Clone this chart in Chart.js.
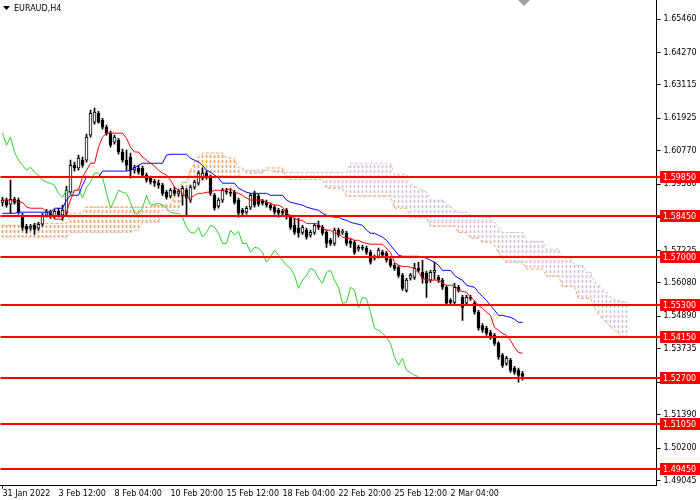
<!DOCTYPE html>
<html>
<head>
<meta charset="utf-8">
<script src="https://cdn.jsdelivr.net/npm/chart.js@4.4.1/dist/chart.umd.min.js"></script>
<style>
    html, body { margin: 0; padding: 0; background: #ffffff; }
    canvas { display: block; }
</style>
</head>
<body>
<canvas id="chart" width="700" height="500"></canvas>
<script>
// EURAUD H4 - Ichimoku with support/resistance levels

const symbolTitle = 'EURAUD,H4';

// time axis
const timeLabels = ['31 Jan 2022', '3 Feb 12:00', '8 Feb 04:00', '10 Feb 20:00', '15 Feb 12:00',
    '18 Feb 04:00', '22 Feb 20:00', '25 Feb 12:00', '2 Mar 04:00'];
const timeLabelBars = [0, 14, 28, 42, 56, 70, 84, 98, 112];
const barCount = 164; // candles + 26 bars of cloud ahead + empty space

// price axis
const priceMin = 1.48867;
const priceMax = 1.66137;
const priceTicks = [1.65460, 1.64270, 1.63115, 1.61925, 1.60770, 1.59580, 1.58405, 1.57225,
    1.56080, 1.54890, 1.53735, 1.52545, 1.51390, 1.50200, 1.49045];

// horizontal levels
const levels = [1.5985, 1.5845, 1.5700, 1.5530, 1.5415, 1.5270, 1.5105, 1.4945];

// candles
const opens = [
    1.5894, 1.5902, 1.5887, 1.5905, 1.5902, 1.5848, 1.5809, 1.5802, 1.5812, 1.5802,
    1.5816, 1.5848, 1.5859, 1.5844, 1.5862, 1.5848, 1.5855, 1.5930, 1.6026, 1.6016,
    1.6044, 1.6044, 1.6133, 1.6179, 1.6211, 1.6186, 1.6161, 1.6140, 1.6108, 1.6115,
    1.6073, 1.6044, 1.6055, 1.6008, 1.6016, 1.6016, 1.5991, 1.5980, 1.5969, 1.5962,
    1.5955, 1.5930, 1.5916, 1.5937, 1.5926, 1.5919, 1.5937, 1.5902, 1.5948, 1.5962,
    1.5980, 1.5998, 1.5984, 1.5919, 1.5880, 1.5902, 1.5934, 1.5930, 1.5930, 1.5902,
    1.5866, 1.5859, 1.5877, 1.5926, 1.5916, 1.5898, 1.5894, 1.5884, 1.5877, 1.5866,
    1.5862, 1.5866, 1.5841, 1.5812, 1.5802, 1.5787, 1.5795, 1.5777, 1.5787, 1.5812,
    1.5805, 1.5787, 1.5759, 1.5748, 1.5795, 1.5787, 1.5784, 1.5755, 1.5752, 1.5727,
    1.5734, 1.5731, 1.5716, 1.5695, 1.5702, 1.5716, 1.5713, 1.5691, 1.5670, 1.5663,
    1.5634, 1.5581, 1.5624, 1.5627, 1.5659, 1.5645, 1.5641, 1.5617, 1.5645, 1.5627,
    1.5617, 1.5592, 1.5545, 1.5538, 1.5592, 1.5556, 1.5535, 1.5556, 1.5535, 1.5503,
    1.5456, 1.5446, 1.5431, 1.5421, 1.5392, 1.5350, 1.5321, 1.5332, 1.5304, 1.5296,
    1.5285
];
const highs = [
    1.5912, 1.5909, 1.5973, 1.5912, 1.5909, 1.5855, 1.5816, 1.5816, 1.5819, 1.5823,
    1.5855, 1.5869, 1.5866, 1.5869, 1.5873, 1.5884, 1.5951, 1.6044, 1.6037, 1.6062,
    1.6055, 1.6137, 1.6222, 1.6229, 1.6218, 1.6193, 1.6169, 1.6147, 1.6133, 1.6122,
    1.6083, 1.6080, 1.6069, 1.6026, 1.6026, 1.6023, 1.5998, 1.5987, 1.5976, 1.5973,
    1.5962, 1.5937, 1.5944, 1.5948, 1.5941, 1.5951, 1.5944, 1.5955, 1.5973, 1.6005,
    1.6016, 1.6005, 1.5991, 1.5926, 1.5909, 1.5944, 1.5944, 1.5941, 1.5937, 1.5909,
    1.5873, 1.5880, 1.5926, 1.5934, 1.5923, 1.5905, 1.5902, 1.5891, 1.5884, 1.5873,
    1.5869, 1.5873, 1.5848, 1.5837, 1.5837, 1.5812, 1.5802, 1.5795, 1.5819, 1.5827,
    1.5812, 1.5795, 1.5766, 1.5802, 1.5802, 1.5798, 1.5791, 1.5763, 1.5759, 1.5741,
    1.5741, 1.5738, 1.5724, 1.5706, 1.5731, 1.5724, 1.5720, 1.5699, 1.5677, 1.5670,
    1.5641, 1.5624, 1.5641, 1.5677, 1.5681, 1.5688, 1.5649, 1.5652, 1.5681, 1.5634,
    1.5624, 1.5599, 1.5552, 1.5606, 1.5599, 1.5563, 1.5563, 1.5563, 1.5542, 1.5510,
    1.5463, 1.5453, 1.5439, 1.5428, 1.5399, 1.5357, 1.5346, 1.5339, 1.5311, 1.5304,
    1.5293
];
const lows = [
    1.5880, 1.5877, 1.5855, 1.5887, 1.5852, 1.5795, 1.5784, 1.5795, 1.5780, 1.5795,
    1.5809, 1.5841, 1.5837, 1.5837, 1.5841, 1.5830, 1.5848, 1.5923, 1.6005, 1.6008,
    1.6019, 1.6037, 1.6126, 1.6172, 1.6176, 1.6154, 1.6133, 1.6090, 1.6101, 1.6065,
    1.6037, 1.6008, 1.5980, 1.5998, 1.5994, 1.5984, 1.5966, 1.5959, 1.5951, 1.5944,
    1.5919, 1.5905, 1.5909, 1.5919, 1.5916, 1.5884, 1.5844, 1.5894, 1.5941, 1.5955,
    1.5973, 1.5976, 1.5919, 1.5866, 1.5873, 1.5894, 1.5923, 1.5916, 1.5887, 1.5841,
    1.5848, 1.5852, 1.5869, 1.5877, 1.5880, 1.5884, 1.5877, 1.5866, 1.5852, 1.5841,
    1.5848, 1.5834, 1.5798, 1.5780, 1.5770, 1.5780, 1.5763, 1.5770, 1.5780, 1.5798,
    1.5777, 1.5734, 1.5741, 1.5741, 1.5770, 1.5780, 1.5741, 1.5734, 1.5709, 1.5720,
    1.5724, 1.5709, 1.5674, 1.5688, 1.5695, 1.5699, 1.5681, 1.5663, 1.5652, 1.5627,
    1.5581, 1.5574, 1.5617, 1.5620, 1.5645, 1.5606, 1.5556, 1.5609, 1.5620, 1.5609,
    1.5584, 1.5527, 1.5531, 1.5531, 1.5574, 1.5474, 1.5527, 1.5545, 1.5496, 1.5439,
    1.5431, 1.5421, 1.5406, 1.5385, 1.5335, 1.5307, 1.5314, 1.5289, 1.5282, 1.5254,
    1.5261
];
const closes = [
    1.5902, 1.5884, 1.5905, 1.5894, 1.5859, 1.5805, 1.5798, 1.5809, 1.5798, 1.5816,
    1.5848, 1.5859, 1.5844, 1.5862, 1.5848, 1.5866, 1.5937, 1.6026, 1.6016, 1.6051,
    1.6026, 1.6126, 1.6211, 1.6215, 1.6179, 1.6161, 1.6140, 1.6097, 1.6126, 1.6073,
    1.6044, 1.6026, 1.6008, 1.6019, 1.6001, 1.5991, 1.5973, 1.5966, 1.5962, 1.5955,
    1.5926, 1.5912, 1.5937, 1.5926, 1.5934, 1.5944, 1.5909, 1.5948, 1.5966, 1.5998,
    1.5998, 1.5984, 1.5926, 1.5873, 1.5902, 1.5937, 1.5930, 1.5926, 1.5894, 1.5855,
    1.5855, 1.5873, 1.5919, 1.5884, 1.5887, 1.5891, 1.5884, 1.5873, 1.5859, 1.5855,
    1.5855, 1.5841, 1.5805, 1.5787, 1.5784, 1.5805, 1.5770, 1.5787, 1.5812, 1.5805,
    1.5784, 1.5748, 1.5748, 1.5795, 1.5777, 1.5791, 1.5748, 1.5748, 1.5716, 1.5734,
    1.5731, 1.5716, 1.5681, 1.5699, 1.5724, 1.5706, 1.5688, 1.5670, 1.5659, 1.5634,
    1.5588, 1.5617, 1.5634, 1.5659, 1.5652, 1.5624, 1.5606, 1.5645, 1.5652, 1.5617,
    1.5592, 1.5535, 1.5538, 1.5592, 1.5581, 1.5520, 1.5556, 1.5552, 1.5503, 1.5446,
    1.5439, 1.5428, 1.5414, 1.5392, 1.5343, 1.5314, 1.5339, 1.5296, 1.5289, 1.5278,
    1.5275
];

// Ichimoku lines
const tenkan = [
    1.5902, 1.5902, 1.5902, 1.5902, 1.5894, 1.5894, 1.5877, 1.5873, 1.5873, 1.5873,
    1.5873, 1.5862, 1.5862, 1.5834, 1.5834, 1.5834, 1.5859, 1.5902, 1.5937, 1.5937,
    1.5984, 1.6008, 1.6033, 1.6033, 1.6090, 1.6126, 1.6140, 1.6140, 1.6140, 1.6140,
    1.6140, 1.6122, 1.6090, 1.6073, 1.6073, 1.6055, 1.6044, 1.6033, 1.6023, 1.6008,
    1.5998, 1.5991, 1.5973, 1.5948, 1.5937, 1.5926, 1.5912, 1.5909, 1.5919, 1.5926,
    1.5926, 1.5930, 1.5930, 1.5937, 1.5937, 1.5937, 1.5937, 1.5944, 1.5930, 1.5926,
    1.5919, 1.5909, 1.5902, 1.5902, 1.5902, 1.5902, 1.5894, 1.5891, 1.5884, 1.5884,
    1.5877, 1.5855, 1.5848, 1.5837, 1.5830, 1.5830, 1.5819, 1.5819, 1.5819, 1.5816,
    1.5802, 1.5795, 1.5795, 1.5784, 1.5784, 1.5770, 1.5766, 1.5766, 1.5759, 1.5759,
    1.5752, 1.5748, 1.5745, 1.5745, 1.5745, 1.5745, 1.5731, 1.5716, 1.5681, 1.5670,
    1.5666, 1.5666, 1.5663, 1.5659, 1.5645, 1.5624, 1.5617, 1.5617, 1.5617, 1.5617,
    1.5606, 1.5599, 1.5599, 1.5599, 1.5581, 1.5577, 1.5574, 1.5556, 1.5545, 1.5527,
    1.5517, 1.5503, 1.5492, 1.5449, 1.5439, 1.5428, 1.5421, 1.5403, 1.5378, 1.5360,
    1.5357
];
const kijun = [
    1.5855, 1.5855, 1.5855, 1.5855, 1.5859, 1.5859, 1.5859, 1.5859, 1.5859, 1.5859,
    1.5859, 1.5859, 1.5859, 1.5873, 1.5873, 1.5873, 1.5902, 1.5919, 1.5919, 1.5919,
    1.5955, 1.5984, 1.5984, 1.5984, 1.5984, 1.6005, 1.6005, 1.6005, 1.6005, 1.6005,
    1.6005, 1.6005, 1.6008, 1.6016, 1.6026, 1.6033, 1.6033, 1.6033, 1.6033, 1.6033,
    1.6033, 1.6062, 1.6065, 1.6065, 1.6065, 1.6065, 1.6065, 1.6051, 1.6044, 1.6037,
    1.6026, 1.6008, 1.6001, 1.5991, 1.5980, 1.5962, 1.5962, 1.5962, 1.5962, 1.5944,
    1.5937, 1.5930, 1.5926, 1.5926, 1.5926, 1.5926, 1.5926, 1.5919, 1.5919, 1.5919,
    1.5919, 1.5902, 1.5894, 1.5891, 1.5887, 1.5884, 1.5877, 1.5873, 1.5869, 1.5866,
    1.5855, 1.5848, 1.5844, 1.5841, 1.5841, 1.5834, 1.5830, 1.5823, 1.5819, 1.5816,
    1.5812, 1.5795, 1.5784, 1.5784, 1.5777, 1.5770, 1.5759, 1.5741, 1.5724, 1.5706,
    1.5702, 1.5702, 1.5702, 1.5702, 1.5702, 1.5699, 1.5695, 1.5688, 1.5681, 1.5670,
    1.5652, 1.5652, 1.5652, 1.5634, 1.5624, 1.5617, 1.5599, 1.5595, 1.5592, 1.5574,
    1.5559, 1.5545, 1.5527, 1.5510, 1.5492, 1.5492, 1.5488, 1.5485, 1.5478, 1.5467,
    1.5467
];
const spanA = [
    1.5812, 1.5812, 1.5812, 1.5812, 1.5812, 1.5805, 1.5805, 1.5805, 1.5819, 1.5819,
    1.5819, 1.5819, 1.5819, 1.5819, 1.5819, 1.5819, 1.5819, 1.5855, 1.5855, 1.5855,
    1.5855, 1.5877, 1.5877, 1.5877, 1.5877, 1.5877, 1.5877, 1.5877, 1.5877, 1.5877,
    1.5877, 1.5877, 1.5877, 1.5877, 1.5877, 1.5877, 1.5877, 1.5877, 1.5884, 1.5884,
    1.5884, 1.5884, 1.5884, 1.5919, 1.5919, 1.5966, 1.5966, 1.6008, 1.6037, 1.6055,
    1.6069, 1.6069, 1.6069, 1.6069, 1.6069, 1.6069, 1.6051, 1.6051, 1.6051, 1.6016,
    1.6016, 1.5998, 1.5998, 1.5998, 1.5998, 1.5998, 1.6016, 1.6016, 1.6016, 1.6016,
    1.6016, 1.5976, 1.5976, 1.5976, 1.5976, 1.5976, 1.5976, 1.5976, 1.5976, 1.5976,
    1.5976, 1.5944, 1.5944, 1.5944, 1.5944, 1.5944, 1.5916, 1.5916, 1.5916, 1.5916,
    1.5916, 1.5916, 1.5916, 1.5916, 1.5916, 1.5916, 1.5916, 1.5916, 1.5873, 1.5873,
    1.5873, 1.5873, 1.5841, 1.5841, 1.5841, 1.5841, 1.5841, 1.5809, 1.5809, 1.5809,
    1.5809, 1.5809, 1.5809, 1.5809, 1.5787, 1.5787, 1.5787, 1.5766, 1.5766, 1.5766,
    1.5752, 1.5752, 1.5752, 1.5741, 1.5716, 1.5695, 1.5681, 1.5681, 1.5681, 1.5681,
    1.5681, 1.5656, 1.5656, 1.5656, 1.5656, 1.5656, 1.5631, 1.5631, 1.5631, 1.5631,
    1.5595, 1.5595, 1.5595, 1.5595, 1.5552, 1.5552, 1.5552, 1.5552, 1.5517, 1.5496,
    1.5481, 1.5467, 1.5453, 1.5439, 1.5428, 1.5414, 1.5414
];
const spanB = [
    1.5770, 1.5770, 1.5770, 1.5770, 1.5770, 1.5770, 1.5770, 1.5770, 1.5770, 1.5770,
    1.5770, 1.5770, 1.5770, 1.5770, 1.5770, 1.5770, 1.5770, 1.5787, 1.5787, 1.5787,
    1.5787, 1.5787, 1.5787, 1.5787, 1.5787, 1.5787, 1.5787, 1.5787, 1.5787, 1.5787,
    1.5787, 1.5787, 1.5787, 1.5795, 1.5795, 1.5823, 1.5823, 1.5823, 1.5823, 1.5823,
    1.5866, 1.5866, 1.5866, 1.5866, 1.5866, 1.5937, 1.5937, 1.5987, 1.5987, 1.5987,
    1.5987, 1.5987, 1.5987, 1.5987, 1.5987, 1.5987, 1.5987, 1.5987, 1.5987, 1.5987,
    1.6008, 1.6008, 1.6008, 1.6008, 1.6008, 1.6008, 1.6008, 1.6008, 1.6001, 1.6001,
    1.6001, 1.6001, 1.6001, 1.6001, 1.6001, 1.6001, 1.6001, 1.6001, 1.6001, 1.6001,
    1.6001, 1.6001, 1.6001, 1.6001, 1.6001, 1.6001, 1.6001, 1.6033, 1.6033, 1.6033,
    1.6033, 1.6033, 1.6033, 1.6033, 1.6033, 1.6033, 1.6033, 1.6033, 1.5994, 1.5994,
    1.5994, 1.5994, 1.5962, 1.5951, 1.5944, 1.5937, 1.5930, 1.5902, 1.5902, 1.5902,
    1.5902, 1.5887, 1.5880, 1.5866, 1.5859, 1.5859, 1.5859, 1.5848, 1.5848, 1.5844,
    1.5844, 1.5841, 1.5841, 1.5823, 1.5805, 1.5787, 1.5787, 1.5787, 1.5787, 1.5787,
    1.5787, 1.5755, 1.5755, 1.5755, 1.5755, 1.5755, 1.5727, 1.5727, 1.5727, 1.5727,
    1.5695, 1.5695, 1.5695, 1.5670, 1.5670, 1.5670, 1.5645, 1.5645, 1.5609, 1.5599,
    1.5588, 1.5574, 1.5556, 1.5549, 1.5545, 1.5542, 1.5538
];

// category labels, only some of them are shown
const labels = [];
for (let i = 0; i < barCount; i++) {
    labels.push('');
}
timeLabelBars.forEach(function(bar, k) {
    labels[bar] = timeLabels[k];
});

// lagging span: the closes drawn 26 bars back
const chikou = closes.slice(26);

const canvas = document.getElementById('chart');
const ctx = canvas.getContext('2d');

// dotted fill like the terminal's cloud hatching
function dotPattern(color) {
    const tile = document.createElement('canvas');
    tile.width = 1;
    tile.height = 5;
    const g = tile.getContext('2d');
    g.fillStyle = color;
    g.fillRect(0, 0, 1, 3);
    return ctx.createPattern(tile, 'repeat');
}
const sandyDots = dotPattern('#F4A460');
const thistleDots = dotPattern('#D8BFD8');

const cloudData = spanA.map((a, i) => [a, spanB[i]]);
const cloudColors = spanA.map((a, i) => a >= spanB[i] ? sandyDots : thistleDots);
const wickData = lows.map((l, i) => [l, highs[i]]);
const bodyData = opens.map((o, i) => [o, closes[i]]);
const bodyColors = opens.map((o, i) => closes[i] > o ? '#ffffff' : '#000000');

const axisFont = { family: 'DejaVu Sans', size: 8 };

// no extra room around the plot for half tick labels
function noScalePadding(scale) {
    scale.paddingTop = 0;
    scale.paddingBottom = 0;
    scale.paddingLeft = 0;
    scale.paddingRight = 0;
}

// levels, price boxes and title
const terminalOverlay = {
    id: 'terminalOverlay',
    afterDraw(chart) {
        const c = chart.ctx;
        const area = chart.chartArea;
        const yScale = chart.scales.y;
        c.save();

        levels.forEach(function(level) {
            const y = Math.round(yScale.getPixelForValue(level));
            c.strokeStyle = '#ff0000';
            c.lineWidth = 2;
            c.beginPath();
            c.moveTo(area.left, y);
            c.lineTo(661, y);
            c.stroke();

            c.fillStyle = '#ff0000';
            c.fillRect(660, y - 6, 40, 12);
            c.fillStyle = '#ffffff';
            c.font = '8px "DejaVu Sans"';
            c.textAlign = 'left';
            c.textBaseline = 'middle';
            c.fillText(level.toFixed(5), 663, y + 0.5);
        });

        // title
        c.fillStyle = '#000000';
        c.beginPath();
        c.moveTo(3, 6);
        c.lineTo(10, 6);
        c.lineTo(6.5, 10);
        c.closePath();
        c.fill();
        c.font = '8px "DejaVu Sans"';
        c.textAlign = 'left';
        c.textBaseline = 'middle';
        c.fillText(symbolTitle, 14, 8.5);

        // shift marker
        c.fillStyle = '#a0a0a0';
        c.beginPath();
        c.moveTo(518, 0);
        c.lineTo(530, 0);
        c.lineTo(524, 6);
        c.closePath();
        c.fill();

        c.restore();
    }
};

new Chart(ctx, {
    type: 'bar',
    data: {
        labels: labels,
        datasets: [
            {
                label: 'Cloud',
                data: cloudData,
                backgroundColor: cloudColors,
                barThickness: 1,
                grouped: false,
                order: 8
            },
            {
                type: 'line',
                label: 'Senkou A',
                data: spanA,
                borderColor: '#F4A460',
                borderWidth: 1,
                borderDash: [3, 2],
                pointRadius: 0,
                tension: 0,
                order: 7
            },
            {
                type: 'line',
                label: 'Senkou B',
                data: spanB,
                borderColor: '#D8BFD8',
                borderWidth: 1,
                borderDash: [3, 2],
                pointRadius: 0,
                tension: 0,
                order: 7
            },
            {
                label: 'Wicks',
                data: wickData,
                backgroundColor: '#000000',
                barThickness: 1,
                grouped: false,
                order: 5
            },
            {
                label: 'Bodies',
                data: bodyData,
                backgroundColor: bodyColors,
                borderColor: '#000000',
                borderWidth: 1,
                borderSkipped: false,
                barThickness: 3,
                grouped: false,
                order: 4
            },
            {
                type: 'line',
                label: 'Chikou',
                data: chikou,
                borderColor: '#32CD32',
                borderWidth: 1,
                pointRadius: 0,
                tension: 0,
                order: 3
            },
            {
                type: 'line',
                label: 'Kijun',
                data: kijun,
                borderColor: '#0000ff',
                borderWidth: 1,
                pointRadius: 0,
                tension: 0,
                order: 2
            },
            {
                type: 'line',
                label: 'Tenkan',
                data: tenkan,
                borderColor: '#ff0000',
                borderWidth: 1,
                pointRadius: 0,
                tension: 0,
                order: 1
            }
        ]
    },
    options: {
        responsive: false,
        animation: false,
        devicePixelRatio: 1,
        events: [],
        layout: { padding: { left: 0.5, right: 0, top: 0, bottom: 0 } },
        plugins: {
            legend: { display: false },
            tooltip: { enabled: false }
        },
        scales: {
            x: {
                type: 'category',
                offset: true,
                afterFit: function(scale) {
                    scale.height = 14.5;
                    noScalePadding(scale);
                },
                ticks: {
                    autoSkip: false,
                    maxRotation: 0,
                    minRotation: 0,
                    align: 'start',
                    padding: 1,
                    color: '#000000',
                    font: axisFont,
                    callback: function(value, index) {
                        return labels[index] ? labels[index] : null;
                    }
                },
                grid: {
                    drawOnChartArea: false,
                    offset: false,
                    tickLength: 3,
                    color: function(context) {
                        return labels[context.index] ? '#000000' : 'rgba(0,0,0,0)';
                    }
                },
                border: { display: true, color: '#000000' }
            },
            y: {
                position: 'right',
                min: priceMin,
                max: priceMax,
                afterFit: function(scale) {
                    scale.width = 43.5;
                    noScalePadding(scale);
                },
                afterBuildTicks: function(scale) {
                    scale.ticks = priceTicks.map(v => ({ value: v }));
                },
                ticks: {
                    autoSkip: false,
                    padding: 3,
                    color: '#000000',
                    font: axisFont,
                    callback: function(value) {
                        return Number(value).toFixed(5);
                    }
                },
                grid: {
                    drawOnChartArea: false,
                    tickLength: 4,
                    color: '#000000'
                },
                border: { display: true, color: '#000000' }
            }
        }
    },
    plugins: [terminalOverlay]
});
</script>
</body>
</html>
